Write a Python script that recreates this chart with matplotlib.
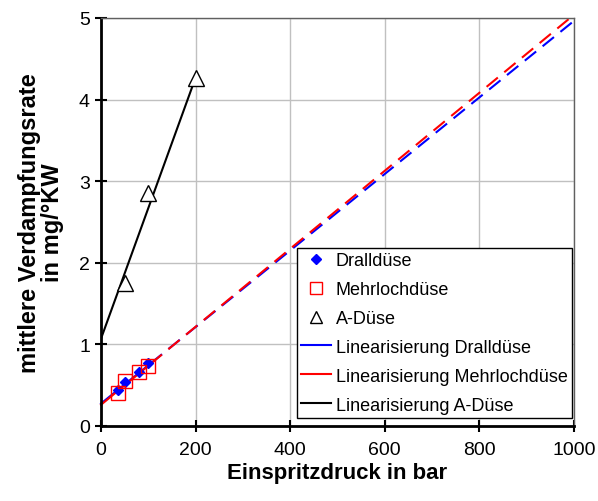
import matplotlib
matplotlib.use("Agg")
import matplotlib.pyplot as plt
import numpy as np
from matplotlib.lines import Line2D

plt.rcParams['font.family'] = ['Liberation Sans', 'DejaVu Sans']

# data
drall_p = [36, 50, 80, 100]
drall_v = [0.445, 0.535, 0.658, 0.768]
mehr_p = [35, 50, 80, 100]
mehr_v = [0.41, 0.55, 0.665, 0.735]
a_p = [50, 100, 200]
a_v = [1.75, 2.85, 4.27]

# linear fits (intercept, slope)
drall_fit = (0.275, 0.00469)
mehr_fit = (0.26, 0.00478)
a_fit = (1.07, 0.0160)

fig = plt.figure(figsize=(5.98, 5.02), dpi=100)
ax = fig.add_axes([101/598, 1-427/502, (574-101)/598, (427-19)/502])

ax.set_xlim(0, 1000)
ax.set_ylim(0, 5)
ax.set_xticks([0, 200, 400, 600, 800, 1000])
ax.set_yticks([0, 1, 2, 3, 4, 5])
ax.grid(True, color='#c0c0c0', linewidth=1)
ax.set_axisbelow(True)

def line(fit, x0, x1, **kw):
    x = np.array([x0, x1])
    return ax.plot(x, fit[0] + fit[1]*x, **kw)

# solid parts over data range, dashed forecast
line(drall_fit, 0, 105, color='blue', lw=1.5, clip_on=False)
line(drall_fit, 105, 1000, color='blue', lw=1.5, dashes=(7, 4), clip_on=False)
line(mehr_fit, 0, 105, color='red', lw=1.5, clip_on=False)
line(mehr_fit, 105, 1000, color='red', lw=1.5, dashes=(7, 4), clip_on=False)
line(a_fit, 0, 200, color='black', lw=1.5)

ax.plot(drall_p, drall_v, linestyle='none', marker='D', markersize=5,
        color='blue', zorder=5)
ax.plot(mehr_p, mehr_v, linestyle='none', marker='s', markersize=10,
        markerfacecolor='none', markeredgecolor='red', markeredgewidth=1, zorder=5)
ax.plot(a_p, a_v, linestyle='none', marker='^', markersize=11,
        markerfacecolor='white', markeredgecolor='black', markeredgewidth=1, zorder=5)

handles = [
    Line2D([], [], linestyle='none', marker='D', markersize=5, color='blue'),
    Line2D([], [], linestyle='none', marker='s', markersize=9, markerfacecolor='none', markeredgecolor='red'),
    Line2D([], [], linestyle='none', marker='^', markersize=9, markerfacecolor='none', markeredgecolor='black'),
    Line2D([], [], color='blue', lw=1.5),
    Line2D([], [], color='red', lw=1.5),
    Line2D([], [], color='black', lw=1.5),
]
labels = ['Dralldüse', 'Mehrlochdüse', 'A-Düse', 'Linearisierung Dralldüse',
          'Linearisierung Mehrlochdüse', 'Linearisierung A-Düse']
leg = ax.legend(handles, labels, loc='lower right', bbox_to_anchor=(0.998, 0.017),
                fontsize=13, frameon=True, fancybox=False, edgecolor='black',
                framealpha=1, borderpad=0.25, labelspacing=0.66, handlelength=1.65,
                handletextpad=0.25, borderaxespad=0.05)
leg.get_frame().set_linewidth(1)

for s in ['left', 'bottom']:
    ax.spines[s].set_linewidth(2)
    ax.spines[s].set_color('black')
for s in ['top', 'right']:
    ax.spines[s].set_linewidth(1)
    ax.spines[s].set_color('#606060')

ax.tick_params(direction='inout', length=9, width=1.5, labelsize=14, color='black')
ax.tick_params(axis='x', pad=6)

ax.set_xlabel('Einspritzdruck in bar', fontsize=16, fontweight='bold', labelpad=3)
ax.set_ylabel('mittlere Verdampfungsrate\nin mg/°KW', fontsize=17, fontweight='bold',
              labelpad=11, linespacing=1.0)

fig.savefig('out.png', dpi=100)
